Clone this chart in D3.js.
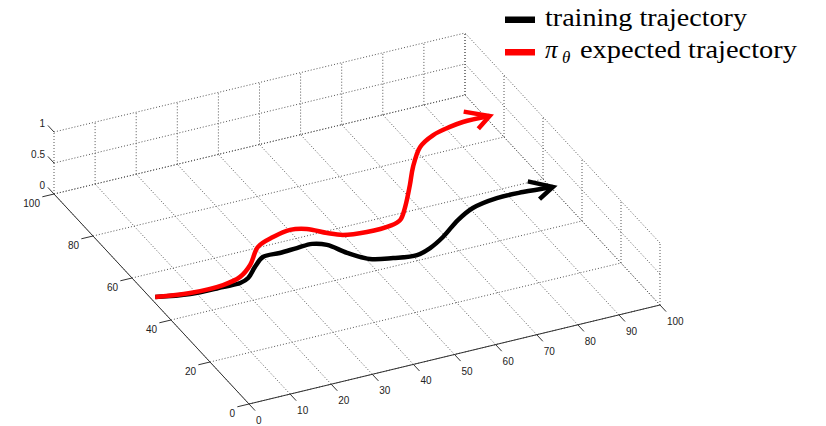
<!DOCTYPE html>
<html lang="en"><head><meta charset="utf-8">
<script src="https://cdn.jsdelivr.net/npm/d3@7"></script>
<style>
  body { margin: 0; background: #fff; }
  svg { display: block; }
  .lgd text { font-family: "Liberation Serif", "DejaVu Serif", serif; }
</style>
</head>
<body>
<script>
// 3-D trajectory plot (floor plane z = 0), oblique view like MATLAB's view()
var width = 826, height = 426;

var xTicks = [0, 10, 20, 30, 40, 50, 60, 70, 80, 90, 100];
var yTicks = [0, 20, 40, 60, 80, 100];
var zTicks = [0, 0.5, 1];
var zTickLabels = ["0", "0.5", "1"];

// training trajectory (data units, on the floor)
var trainX = [1.1, 8.6, 16.4, 20.6, 23.1, 26.5, 29.9, 34.0, 38.3, 42.1, 44.9, 47.4, 50.8, 55.6, 60.9, 64.8, 69.4, 75.5, 80.7, 87.3, 93.6, 100.5];
var trainY = [50.4, 48.3, 48.0, 47.9, 49.1, 52.8, 55.9, 55.9, 56.2, 56.4, 54.6, 49.6, 45.1, 43.3, 42.2, 43.7, 46.8, 52.0, 55.3, 56.9, 56.8, 56.0];
// pi_theta expected trajectory
var expX = [1.1, 8.8, 16.8, 21.7, 25.9, 30.8, 35.6, 40.3, 43.8, 47.1, 49.9, 55.2, 60.9, 64.0, 67.4, 72.4, 76.4, 81.5, 86.3, 91.1, 94.6, 101.0];
var expY = [50.4, 48.7, 48.7, 50.3, 54.0, 60.3, 62.7, 63.9, 62.7, 59.2, 57.0, 55.9, 56.1, 57.4, 62.0, 70.1, 76.9, 84.0, 87.4, 89.0, 89.7, 89.5];

var legendNames = ["training trajectory", "expected trajectory"];
var seriesColors = ["#000000", "#ff0000"];

var svg = d3.select("body").append("svg")
    .attr("width", width)
    .attr("height", height);

// scales to unit cube, then oblique projection
var sx = d3.scaleLinear().domain([0, 100]).range([0, 1]);
var sy = d3.scaleLinear().domain([0, 100]).range([0, 1]);
var sz = d3.scaleLinear().domain([0, 1]).range([0, 1]);
var O = [249, 404], ex = [411, -99], ey = [-195, -210], ez = [0, -62];

function proj(x, y, z) {
    var a = sx(x), b = sy(y), c = sz(z);
    return [O[0] + a*ex[0] + b*ey[0] + c*ez[0],
            O[1] + a*ex[1] + b*ey[1] + c*ez[1]];
}

var grid = svg.append("g")
    .attr("fill", "none")
    .attr("stroke", "#555")
    .attr("stroke-width", 1)
    .attr("stroke-dasharray", "1,2");

function seg(g, p, q) {
    g.append("line")
        .attr("x1", p[0]).attr("y1", p[1])
        .attr("x2", q[0]).attr("y2", q[1]);
}

// floor grid
xTicks.forEach(function(x) { seg(grid, proj(x, 0, 0), proj(x, 100, 0)); });
yTicks.forEach(function(y) { seg(grid, proj(0, y, 0), proj(100, y, 0)); });
// back wall y = 100
xTicks.forEach(function(x) { seg(grid, proj(x, 100, 0), proj(x, 100, 1)); });
zTicks.forEach(function(z) { seg(grid, proj(0, 100, z), proj(100, 100, z)); });
// side wall x = 100
yTicks.forEach(function(y) { seg(grid, proj(100, y, 0), proj(100, y, 1)); });
zTicks.forEach(function(z) { seg(grid, proj(100, 0, z), proj(100, 100, z)); });

// axis lines
var ax = svg.append("g").attr("stroke", "#333").attr("stroke-width", 1);
seg(ax, proj(0, 0, 0), proj(100, 0, 0));
seg(ax, proj(0, 0, 0), proj(0, 100, 0));

function unit(v) { var l = Math.hypot(v[0], v[1]); return [v[0]/l, v[1]/l]; }
var dY = unit(ey), dX = unit(ex);

var labels = svg.append("g")
    .attr("font-family", "'Liberation Sans', Arial, sans-serif")
    .attr("font-size", 10)
    .attr("fill", "#222");

xTicks.forEach(function(x) {
    var p = proj(x, 0, 0);
    seg(ax, p, [p[0] - dY[0]*9, p[1] - dY[1]*9]);
    labels.append("text").attr("x", p[0] + 7).attr("y", p[1] + 20).text(x);
});
yTicks.forEach(function(y) {
    var p = proj(0, y, 0);
    seg(ax, p, [p[0] - dX[0]*12, p[1] - dX[1]*12]);
    labels.append("text").attr("text-anchor", "end")
        .attr("x", p[0] - 14).attr("y", p[1] + 13).text(y);
});
zTicks.forEach(function(z, i) {
    var p = proj(0, 100, z);
    seg(ax, p, [p[0] + dY[0]*9, p[1] + dY[1]*9]);
    labels.append("text").attr("text-anchor", "end")
        .attr("x", p[0] - 9).attr("y", p[1] - 5).text(zTickLabels[i]);
});

// trajectories
var line = d3.line().curve(d3.curveCatmullRom.alpha(0.5));

function drawTraj(xs, ys, color) {
    var pts = xs.map(function(x, i) { return [x, ys[i]]; });
    svg.append("path")
        .attr("d", line(pts.map(function(d) { return proj(d[0], d[1], 0); })))
        .attr("fill", "none")
        .attr("stroke", color)
        .attr("stroke-width", 4.5)
        .attr("stroke-linejoin", "round");
    // arrow head in the floor plane
    var n = pts.length, tip = pts[n-1], prev = pts[n-2];
    var ang = Math.atan2(tip[1] - prev[1], tip[0] - prev[0]);
    var L = 6, spread = 42 * Math.PI / 180;
    var a1 = [tip[0] - L*Math.cos(ang - spread), tip[1] - L*Math.sin(ang - spread)];
    var a2 = [tip[0] - L*Math.cos(ang + spread), tip[1] - L*Math.sin(ang + spread)];
    svg.append("path")
        .attr("d", d3.line()([proj(a1[0], a1[1], 0), proj(tip[0], tip[1], 0), proj(a2[0], a2[1], 0)]))
        .attr("fill", "none")
        .attr("stroke", color)
        .attr("stroke-width", 4.5)
        .attr("stroke-linejoin", "miter");
}
drawTraj(trainX, trainY, seriesColors[0]);
drawTraj(expX, expY, seriesColors[1]);

// legend
var lg = svg.append("g")
    .attr("class", "lgd")
    .attr("font-size", 25)
    .attr("fill", "#000");
lg.append("rect").attr("x", 505).attr("y", 16.5).attr("width", 30).attr("height", 6.5).attr("fill", seriesColors[0]);
lg.append("rect").attr("x", 505).attr("y", 49).attr("width", 30).attr("height", 6.5).attr("fill", seriesColors[1]);
lg.append("text").attr("x", 545).attr("y", 26)
    .attr("textLength", 202).attr("lengthAdjust", "spacingAndGlyphs")
    .text(legendNames[0]);
lg.append("text").attr("x", 545).attr("y", 58).attr("font-style", "italic").text("π");
lg.append("text").attr("x", 562).attr("y", 63).attr("font-style", "italic").attr("font-size", 17).text("θ");
lg.append("text").attr("x", 580).attr("y", 58)
    .attr("textLength", 217).attr("lengthAdjust", "spacingAndGlyphs")
    .text(legendNames[1]);
</script>
</body></html>
